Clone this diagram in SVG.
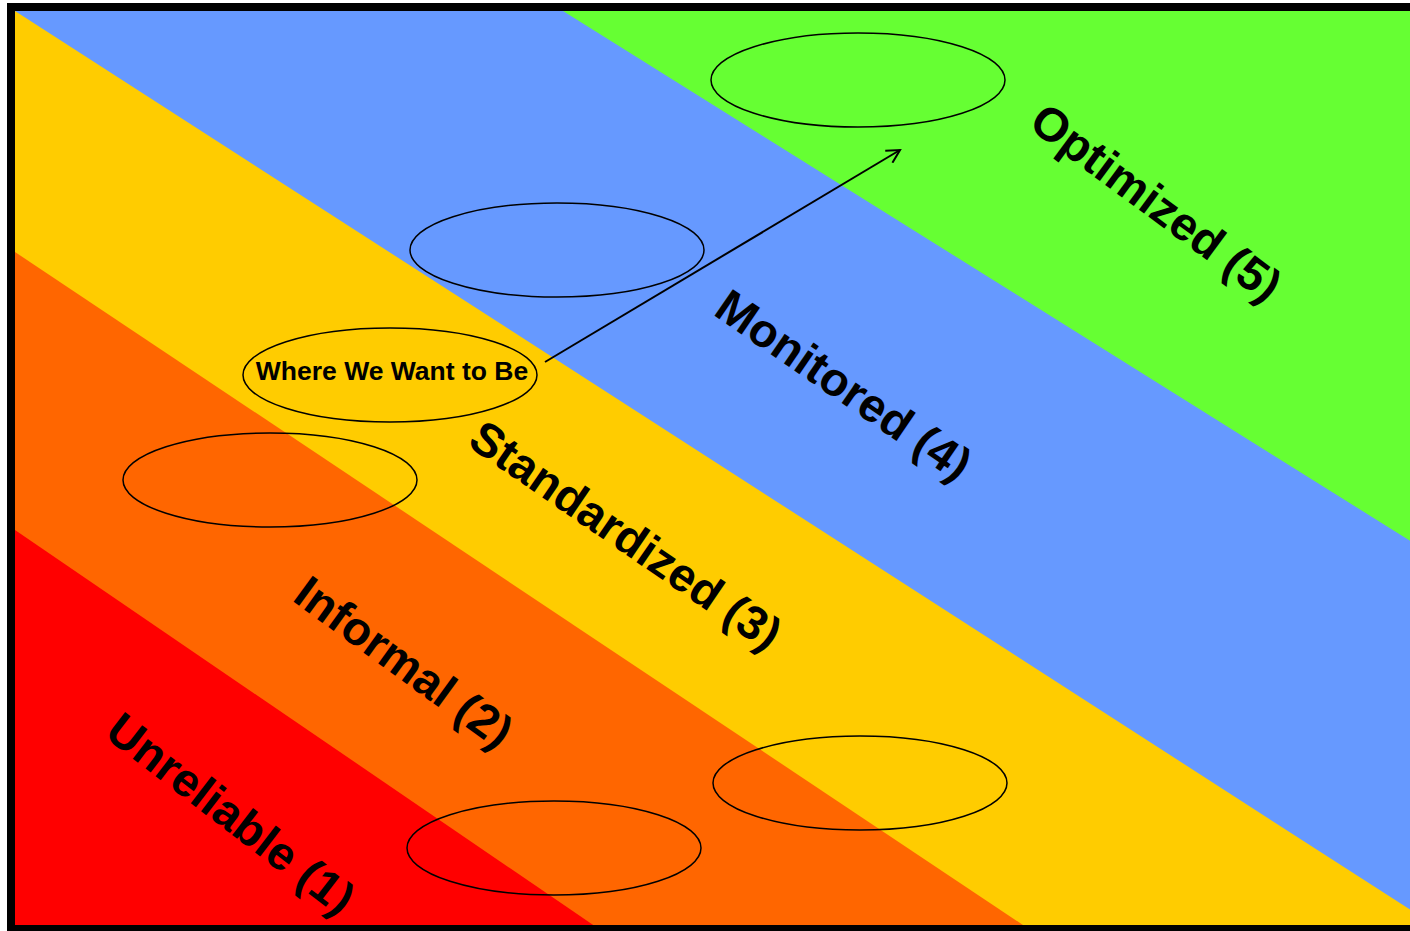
<svg xmlns="http://www.w3.org/2000/svg" width="1410" height="931" viewBox="0 0 1410 931">
<style>
.lvl{font-family:"Liberation Sans",Arial,sans-serif;font-weight:bold;font-size:47px;fill:#000}
.ell{fill:none;stroke:#000;stroke-width:1.5}
.lbl{font-family:"Liberation Sans",Arial,sans-serif;font-weight:bold;font-size:26.5px;fill:#000}
</style>
<defs>
<clipPath id="inner"><rect x="15" y="11" width="1400" height="914"/></clipPath>
<marker id="open" markerWidth="16" markerHeight="16" refX="14" refY="8" orient="auto" markerUnits="userSpaceOnUse">
<path d="M1,1 L14,8 L1,15" fill="none" stroke="#000" stroke-width="2"/>
</marker>
</defs>
<rect width="1410" height="931" fill="#fff"/>
<g id="bands" clip-path="url(#inner)">
<rect x="15" y="11" width="1400" height="914" fill="#66ff33"/>
<polygon points="563,11 1420,547 1420,931 15,931 15,11" fill="#6699ff"/>
<polygon points="15,11 1420,916 1420,931 15,931" fill="#ffcc00"/>
<polygon points="15,252 1032,931 15,931" fill="#ff6600"/>
<polygon points="15,530 602,931 15,931" fill="#ff0000"/>
</g>
<rect id="frame" x="11" y="7" width="1420" height="922" fill="none" stroke="#000" stroke-width="8"/>
<g id="level5"><text class="lvl" transform="translate(1027,127) rotate(36.5)">Optimized (5)</text></g>
<g id="level4"><text class="lvl" transform="translate(712,314) rotate(34.5)">Monitored (4)</text></g>
<g id="level3"><text class="lvl" transform="translate(466,445) rotate(34.5)">Standardized (3)</text></g>
<g id="level2"><text class="lvl" transform="translate(291,600) rotate(36)">Informal (2)</text></g>
<g id="level1"><text class="lvl" transform="translate(103,736) rotate(37.5)">Unreliable (1)</text></g>
<g id="e1"><ellipse class="ell" cx="858" cy="80" rx="147" ry="47"/></g>
<g id="e2"><ellipse class="ell" cx="557" cy="250" rx="147" ry="47"/></g>
<g id="target"><ellipse class="ell" cx="390" cy="375" rx="147" ry="47"/><text class="lbl" x="392" y="380" text-anchor="middle">Where We Want to Be</text></g>
<g id="e4"><ellipse class="ell" cx="270" cy="480" rx="147" ry="47"/></g>
<g id="e5"><ellipse class="ell" cx="860" cy="783" rx="147" ry="47"/></g>
<g id="e6"><ellipse class="ell" cx="554" cy="848" rx="147" ry="47"/></g>
<g id="connectors">
<line x1="545" y1="362" x2="900" y2="150" stroke="#000" stroke-width="2" marker-end="url(#open)"/>
</g>
</svg>
